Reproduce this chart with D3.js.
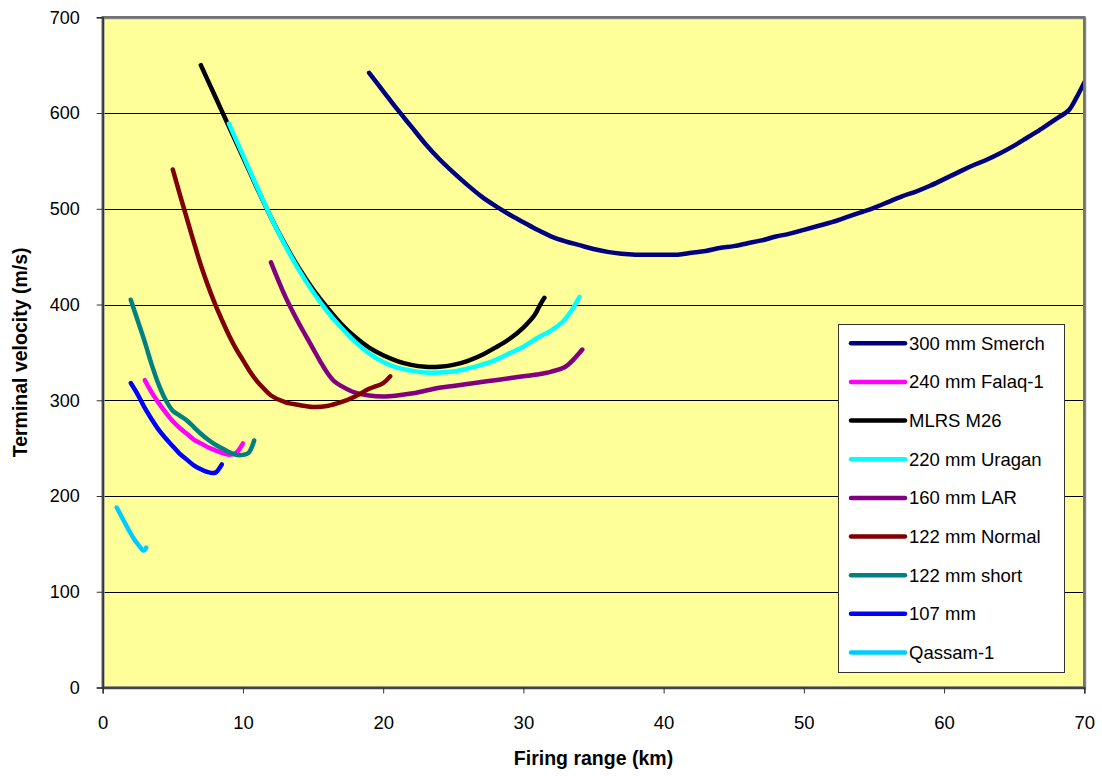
<!DOCTYPE html>
<html>
<head>
<meta charset="utf-8">
<script src="https://cdn.jsdelivr.net/npm/d3@7"></script>
<style>
  html, body { margin: 0; padding: 0; background: #ffffff; }
  svg { display: block; font-family: Arial, "Liberation Sans", sans-serif; }
</style>
</head>
<body>
<svg id="chart" width="1102" height="776"></svg>
<script>
// Terminal velocity vs. firing range for several rocket systems
const seriesNames = ["300 mm Smerch", "240 mm Falaq-1", "MLRS M26", "220 mm Uragan",
  "160 mm LAR", "122 mm Normal", "122 mm short", "107 mm", "Qassam-1"];
const seriesColors = ["#000080", "#ff00ff", "#000000", "#00ffff",
  "#800080", "#800000", "#008080", "#0000ff", "#00ccff"];

// range (km)
const smerchX = [19, 20, 21, 22, 23, 24, 25, 26, 27, 28, 29, 30, 31, 32, 33, 34, 35, 36, 37, 38, 39, 40, 41, 42, 43, 44, 45, 46, 47, 48, 49, 50, 51, 52, 53, 54, 55, 56, 57, 58, 59, 60, 61, 62, 63, 64, 65, 66, 67, 68, 68.9, 69.4, 70];
// terminal velocity (m/s)
const smerchY = [642, 623, 604, 586, 568, 552, 538, 525, 513, 503, 494, 486, 478, 471, 466, 462, 458, 455, 453, 452, 452, 452, 452, 454, 456, 459, 461, 464, 467, 471, 474, 478, 482, 486, 491, 496, 501, 507, 513, 518, 524, 531, 538, 545, 551, 558, 566, 575, 584, 594, 603, 615, 632];

const falaqX = [3, 3.5, 4, 4.5, 5, 5.5, 6, 6.5, 7, 7.5, 8, 8.5, 9, 9.5, 10];
const falaqY = [321, 308, 297, 287, 278, 271, 265, 259, 255, 251, 248, 245, 243, 245, 255];

const mlrsX = [7, 8, 9, 10, 11, 12, 13, 14, 15, 16, 17, 18, 19, 20, 21, 22, 23, 24, 25, 26, 27, 28, 29, 30, 30.8, 31.2, 31.5];
const mlrsY = [650, 618, 586, 554, 522, 491, 463, 438, 416, 397, 380, 366, 355, 347, 341, 337, 335, 335, 337, 341, 347, 355, 364, 376, 389, 400, 407];

const uraganX = [9, 10, 11, 12, 13, 14, 15, 16, 17, 18, 19, 20, 21, 22, 23, 24, 25, 26, 27, 28, 29, 30, 31, 32, 32.8, 33.4, 34];
const uraganY = [589, 556, 523, 491, 462, 436, 413, 393, 376, 361, 349, 340, 334, 331, 329, 329, 330, 333, 337, 342, 349, 356, 365, 373, 382, 393, 408];

const larX = [12, 12.5, 13, 13.5, 14, 14.5, 15, 15.5, 16, 16.5, 17, 18, 19, 20, 21, 22, 23, 24, 25, 26, 27, 28, 29, 30, 31, 32, 33, 33.6, 34.2];
const larY = [444, 426, 409, 394, 380, 367, 354, 341, 329, 320, 315, 308, 305, 304, 305, 307, 310, 313, 315, 317, 319, 321, 323, 325, 327, 330, 335, 343, 353];

const normalX = [5, 5.5, 6, 6.5, 7, 7.5, 8, 8.5, 9, 9.5, 10, 10.5, 11, 11.5, 12, 13, 14, 15, 16, 17, 18, 19, 20, 20.5];
const normalY = [541, 515, 490, 465, 441, 420, 401, 384, 368, 354, 342, 330, 320, 312, 305, 298, 295, 293, 294, 298, 304, 312, 318, 325];

const shortX = [2, 2.5, 3, 3.5, 4, 4.5, 5, 5.5, 6, 6.5, 7, 7.5, 8, 8.5, 9, 9.5, 10, 10.4, 10.8];
const shortY = [405, 383, 361, 337, 316, 300, 289, 284, 279, 272, 265, 259, 254, 250, 246, 243, 243, 245, 258];

const r107X = [2, 2.5, 3, 3.5, 4, 4.5, 5, 5.5, 6, 6.5, 7, 7.5, 7.9, 8.1, 8.5];
const r107Y = [318, 306, 292, 280, 269, 260, 252, 244, 238, 232, 228, 225, 224, 225, 233];

const qassamX = [1, 1.4, 1.8, 2.2, 2.6, 2.9, 3.1];
const qassamY = [188, 177, 166, 156, 148, 143, 146];

const xTicks = [0, 10, 20, 30, 40, 50, 60, 70];
const yTicks = [0, 100, 200, 300, 400, 500, 600, 700];

const seriesX = [smerchX, falaqX, mlrsX, uraganX, larX, normalX, shortX, r107X, qassamX];
const seriesY = [smerchY, falaqY, mlrsY, uraganY, larY, normalY, shortY, r107Y, qassamY];

const series = seriesNames.map((name, i) => ({
  name,
  color: seriesColors[i],
  points: seriesX[i].map((x, j) => ({ x, y: seriesY[i][j] }))
}));

const svg = d3.select("#chart");
const plotL = 102.7, plotR = 1084.3, plotT = 17.3, plotB = 687.5;

const x = d3.scaleLinear().domain([0, 70]).range([plotL, plotR]);
const y = d3.scaleLinear().domain([0, 700]).range([plotB, plotT]);

// plot area
svg.append("rect")
  .attr("x", plotL).attr("y", plotT)
  .attr("width", plotR - plotL).attr("height", plotB - plotT)
  .attr("fill", "#ffff99");

// horizontal gridlines
svg.append("g")
  .selectAll("line")
  .data(yTicks.filter(d => d > 0 && d < 700))
  .join("line")
  .attr("x1", plotL).attr("x2", plotR)
  .attr("y1", d => Math.round(y(d)) + 0.5)
  .attr("y2", d => Math.round(y(d)) + 0.5)
  .attr("stroke", "#000")
  .attr("stroke-width", 1);

svg.append("clipPath").attr("id", "plot-clip")
  .append("rect")
  .attr("x", plotL).attr("y", plotT)
  .attr("width", plotR - plotL).attr("height", plotB - plotT);

const line = d3.line()
  .x(d => x(d.x))
  .y(d => y(d.y))
  .curve(d3.curveCatmullRom.alpha(0.5));

svg.append("g")
  .attr("clip-path", "url(#plot-clip)")
  .selectAll("path")
  .data(series)
  .join("path")
  .attr("d", d => line(d.points))
  .attr("fill", "none")
  .attr("stroke", d => d.color)
  .attr("stroke-width", 4.5)
  .attr("stroke-linecap", "round")
  .attr("stroke-linejoin", "round");

// plot frame
svg.append("rect")
  .attr("x", plotL + 1).attr("y", plotT + 1)
  .attr("width", plotR - plotL).attr("height", plotB - plotT)
  .attr("fill", "none")
  .attr("stroke", "#a0a0a0")
  .attr("stroke-width", 2);
svg.append("rect")
  .attr("x", plotL).attr("y", plotT)
  .attr("width", plotR - plotL).attr("height", plotB - plotT)
  .attr("fill", "none")
  .attr("stroke", "#707070")
  .attr("stroke-width", 2.5);

// axes
const yAxis = d3.axisLeft(y).tickValues(yTicks).tickSize(6).tickPadding(17).tickFormat(d3.format("d"));
const gy = svg.append("g").attr("transform", `translate(${plotL},0)`).call(yAxis);
gy.select(".domain").attr("stroke", "#333").attr("stroke-width", 1.5);
gy.selectAll(".tick line").attr("stroke", "#333");
gy.selectAll("text").attr("font-size", 18).attr("fill", "#000")
  .attr("font-family", "Arial, 'Liberation Sans', sans-serif");

const xAxis = d3.axisBottom(x).tickValues(xTicks).tickSize(6).tickPadding(22).tickFormat(d3.format("d"));
const gx = svg.append("g").attr("transform", `translate(0,${plotB})`).call(xAxis);
gx.select(".domain").attr("stroke", "#333").attr("stroke-width", 1.5);
gx.selectAll(".tick line").attr("stroke", "#333");
gx.selectAll("text").attr("font-size", 18.5).attr("fill", "#000")
  .attr("font-family", "Arial, 'Liberation Sans', sans-serif");

// axis titles
svg.append("text")
  .attr("x", (plotL + plotR) / 2)
  .attr("y", 765)
  .attr("text-anchor", "middle")
  .attr("font-size", 19.5)
  .attr("font-weight", "bold")
  .text("Firing range (km)");

svg.append("text")
  .attr("transform", `translate(27,${(plotT + plotB) / 2}) rotate(-90)`)
  .attr("text-anchor", "middle")
  .attr("font-size", 19.5)
  .attr("font-weight", "bold")
  .text("Terminal velocity (m/s)");

// legend
const legend = svg.append("g");
legend.append("rect")
  .attr("x", 838.5).attr("y", 324.5)
  .attr("width", 226).attr("height", 348)
  .attr("fill", "#ffffff")
  .attr("stroke", "#333")
  .attr("stroke-width", 1);

const items = legend.selectAll("g.item")
  .data(series)
  .join("g")
  .attr("class", "item")
  .attr("transform", (d, i) => `translate(0,${343.3 + i * 38.65})`);

items.append("line")
  .attr("x1", 851).attr("x2", 905)
  .attr("stroke", d => d.color)
  .attr("stroke-width", 4.5)
  .attr("stroke-linecap", "round");

items.append("text")
  .attr("x", 909)
  .attr("y", 6.5)
  .attr("font-size", 18.5)
  .text(d => d.name);
</script>
</body>
</html>
